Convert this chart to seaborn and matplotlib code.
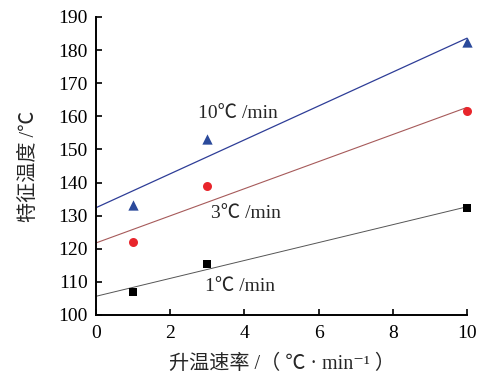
import pandas as pd
import matplotlib.pyplot as plt
import seaborn as sns

rates = [1, 3, 10]
temp_10 = [133.3, 153.2, 182.4]
temp_3 = [122.0, 139.0, 161.6]
temp_1 = [107.0, 115.5, 132.3]

sns.set_style("ticks")
plt.rcParams['font.family'] = ['Liberation Serif', 'Noto Sans CJK SC', 'DejaVu Sans']

df = pd.DataFrame({"rate": rates, "t10": temp_10, "t3": temp_3, "t1": temp_1})

fig = plt.figure(figsize=(4.79, 3.82), dpi=100)
ax = fig.add_axes([0.2004, 0.1754, 0.7746, 0.7801])
ax.set_xlim(0, 10)
ax.set_ylim(100, 190)

# 10 C/min - blue triangles
sns.regplot(x="rate", y="t10", data=df, ax=ax, ci=None, truncate=False, marker="^",
            scatter_kws={"s": 55, "color": "#2b4a9b", "linewidths": 0, "alpha": 1, "clip_on": False, "zorder": 3},
            line_kws={"color": "#2e3d97", "lw": 0.9})
# 3 C/min - red circles
sns.regplot(x="rate", y="t3", data=df, ax=ax, ci=None, truncate=False, marker="o",
            scatter_kws={"s": 42, "color": "#e8252b", "linewidths": 0, "alpha": 1, "clip_on": False, "zorder": 3},
            line_kws={"color": "#a65a5a", "lw": 0.8})
# 1 C/min - black squares
sns.regplot(x="rate", y="t1", data=df, ax=ax, ci=None, truncate=False, marker="s",
            scatter_kws={"s": 36, "color": "black", "linewidths": 0, "alpha": 1, "clip_on": False, "zorder": 3},
            line_kws={"color": "#555555", "lw": 0.7})

ax.text(2.75, 161, "10℃ /min", fontsize=14, va="center")
ax.text(3.1, 130.8, "3℃ /min", fontsize=14, va="center")
ax.text(2.94, 108.5, "1℃ /min", fontsize=14, va="center")

ax.set_xlim(0, 10)
ax.set_ylim(100, 190)
ax.set_xticks([0, 2, 4, 6, 8, 10])
ax.set_yticks(range(100, 191, 10))
ax.tick_params(direction="in", labelsize=14, length=4, width=1.2, colors="black")
ax.tick_params(axis="x", pad=7)
ax.tick_params(axis="y", pad=6)
sns.despine(ax=ax)
for s in ["left", "bottom"]:
    ax.spines[s].set_linewidth(1.4)
    ax.spines[s].set_color("black")

ax.set_xlabel("升温速率 /（ ℃ · min⁻¹ ）", fontsize=14.5, labelpad=9)
ax.set_ylabel("特征温度 /℃", fontsize=14.5, labelpad=14)

fig.savefig("out.png", dpi=100)
